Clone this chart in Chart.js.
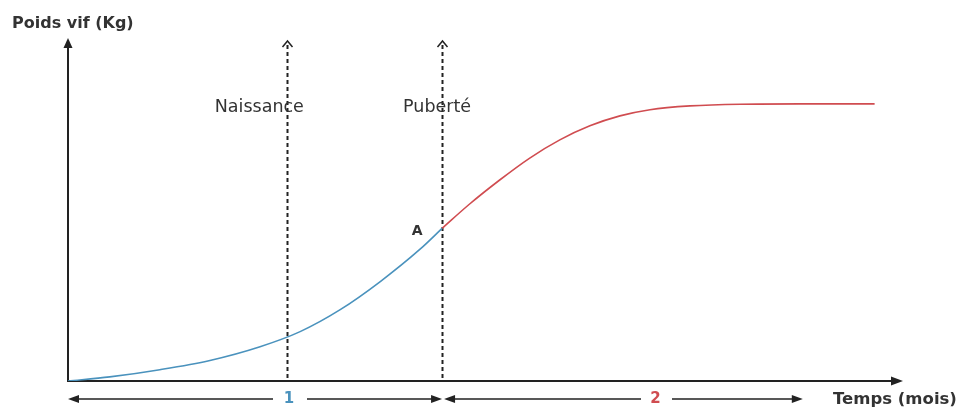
<!DOCTYPE html>
<html>
<head>
<meta charset="utf-8">
<script src="https://cdn.jsdelivr.net/npm/chart.js@4/dist/chart.umd.min.js"></script>
<style>
  body { margin: 0; background: #fff; }
  canvas { display: block; }
</style>
</head>
<body>
<canvas id="growthChart" width="965" height="407"></canvas>
<script>
// Courbe de croissance (poids vif en fonction du temps)
// x : temps (unites arbitraires 0-100), y : poids (unites arbitraires 0-100)

const phase1X = [0, 5, 11, 17, 23, 27.8, 32.6, 37.4, 42.2, 44.8];
const phase1Y = [0, 1.2, 3.3, 6, 10, 14.4, 20.8, 29, 38.5, 44.5];

const phase2X = [44.8, 48.1, 51.7, 55.3, 58.9, 62.5, 66.1, 69.7, 74.5, 80.5, 87.7, 96.6];
const phase2Y = [44.5, 51.6, 58.6, 65, 70.3, 74.4, 77.3, 79.1, 80.2, 80.7, 80.8, 80.8];

const milestoneX = [26.2, 44.8];
const milestoneLabels = ["Naissance", "Puberté"];

const phaseLabels = ["1", "2"];
const phaseStart = [0, 44.8];
const phaseEnd = [44.8, 88];

const blue = "#4a92bd";
const red = "#d04c50";
const ink = "#222";
const font = "'DejaVu Sans'";

function toPoints(xs, ys) {
  return xs.map((x, i) => ({ x: x, y: ys[i] }));
}

// filled arrow head pointing in direction (dx, dy)
function arrowHead(ctx, x, y, dx, dy, len, half) {
  ctx.beginPath();
  ctx.moveTo(x, y);
  ctx.lineTo(x - dx * len - dy * half, y - dy * len + dx * half);
  ctx.lineTo(x - dx * len + dy * half, y - dy * len - dx * half);
  ctx.closePath();
  ctx.fill();
}

const schemaPlugin = {
  id: "schema",
  beforeDatasetsDraw(chart) {
    const ctx = chart.ctx;
    const xs = chart.scales.x;
    const ys = chart.scales.y;
    const area = chart.chartArea;
    const x0 = xs.getPixelForValue(0);
    const y0 = ys.getPixelForValue(0);

    ctx.save();
    ctx.strokeStyle = ink;
    ctx.fillStyle = ink;

    // vertical dashed lines (naissance, puberte)
    milestoneX.forEach((m) => {
      const px = Math.round(xs.getPixelForValue(m)) + 0.5;
      ctx.lineWidth = 2;
      ctx.setLineDash([4, 3]);
      ctx.beginPath();
      ctx.moveTo(px, area.top + 7);
      ctx.lineTo(px, y0);
      ctx.stroke();
      ctx.setLineDash([]);
      ctx.lineWidth = 1.5;
      ctx.beginPath();
      ctx.moveTo(px - 5, area.top + 9);
      ctx.lineTo(px, area.top + 3);
      ctx.lineTo(px + 5, area.top + 9);
      ctx.stroke();
    });

    // axes
    ctx.lineWidth = 2;
    ctx.beginPath();
    ctx.moveTo(x0, area.top + 8);
    ctx.lineTo(x0, y0);
    ctx.lineTo(area.right - 8, y0);
    ctx.stroke();
    arrowHead(ctx, x0, area.top, 0, -1, 10, 4.5);
    arrowHead(ctx, area.right, y0, 1, 0, 12, 4.5);

    // phase arrows under the axis
    const yb = y0 + 18;
    const gaps = [[273, 307], [641, 672]];
    ctx.lineWidth = 1.5;
    phaseLabels.forEach((lab, i) => {
      const a = xs.getPixelForValue(phaseStart[i]) + (i === 0 ? 0 : 2);
      const b = xs.getPixelForValue(phaseEnd[i]);
      const g = gaps[i];
      ctx.beginPath();
      ctx.moveTo(a + 8, yb);
      ctx.lineTo(g[0], yb);
      ctx.moveTo(g[1], yb);
      ctx.lineTo(b - 8, yb);
      ctx.stroke();
      arrowHead(ctx, a, yb, -1, 0, 11, 4);
      arrowHead(ctx, b, yb, 1, 0, 11, 4);
      ctx.font = "bold 15px " + font;
      ctx.textAlign = "center";
      ctx.textBaseline = "middle";
      ctx.fillStyle = i === 0 ? blue : red;
      ctx.fillText(lab, (g[0] + g[1]) / 2 - 1, yb);
      ctx.fillStyle = ink;
    });
    ctx.restore();
  },
  afterDatasetsDraw(chart) {
    const ctx = chart.ctx;
    const xs = chart.scales.x;
    const ys = chart.scales.y;
    ctx.save();
    ctx.fillStyle = "#333";
    ctx.textBaseline = "middle";

    ctx.textAlign = "left";
    ctx.font = "bold 16px " + font;
    ctx.fillText("Poids vif (Kg)", 12, 24);
    ctx.font = "bold 16.5px " + font;
    ctx.fillText("Temps (mois)", 833, 400);

    ctx.font = "17.5px " + font;
    const textOffset = [-72, -39];
    milestoneLabels.forEach((lab, i) => {
      const px = xs.getPixelForValue(milestoneX[i]);
      ctx.fillText(lab, px + textOffset[i], 107);
    });

    ctx.font = "bold 14px " + font;
    ctx.textAlign = "center";
    const ax = xs.getPixelForValue(phase2X[0]);
    const ay = ys.getPixelForValue(phase2Y[0]);
    ctx.fillText("A", ax - 25, ay + 3);
    ctx.restore();
  },
};

new Chart(document.getElementById("growthChart"), {
  type: "line",
  data: {
    datasets: [
      {
        label: "Phase 1",
        data: toPoints(phase1X, phase1Y),
        borderColor: blue,
        borderWidth: 1.6,
        pointRadius: 0,
        cubicInterpolationMode: "monotone",
      },
      {
        label: "Phase 2",
        data: toPoints(phase2X, phase2Y),
        borderColor: red,
        borderWidth: 1.6,
        pointRadius: 0,
        cubicInterpolationMode: "monotone",
      },
    ],
  },
  options: {
    responsive: false,
    animation: false,
    layout: {
      padding: { left: 68, right: 62, top: 38, bottom: 26 },
    },
    scales: {
      x: { type: "linear", min: 0, max: 100, display: false },
      y: { min: 0, max: 100, display: false },
    },
    plugins: {
      legend: { display: false },
      tooltip: { enabled: false },
    },
  },
  plugins: [schemaPlugin],
});
</script>
</body>
</html>
